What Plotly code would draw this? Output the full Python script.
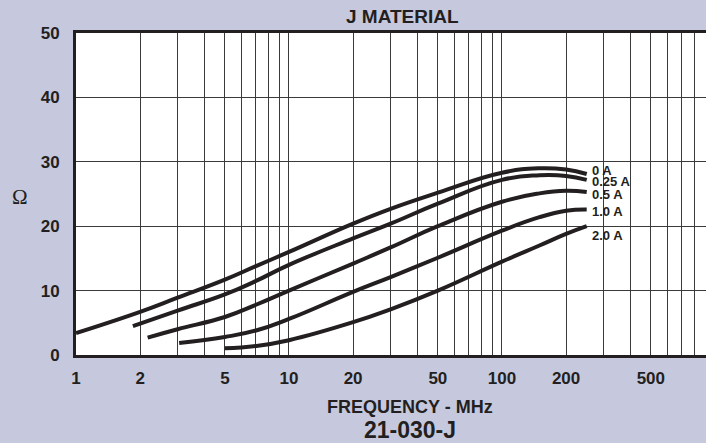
import math
import plotly.graph_objects as go

# ---- data ----
freq_0A = [1, 2, 3, 5, 7, 10, 20, 30, 50, 100, 150, 200, 250]
ohm_0A = [3.4, 6.7, 8.9, 11.7, 13.8, 16.0, 20.4, 22.7, 25.2, 28.3, 29.0, 28.8, 28.1]

freq_025A = [1.85, 3, 5, 7, 10, 20, 30, 50, 100, 150, 200, 250]
ohm_025A = [4.5, 6.9, 9.4, 11.5, 14.0, 18.1, 20.4, 23.5, 27.2, 27.9, 27.8, 27.2]

freq_05A = [2.17, 3, 5, 7, 10, 20, 30, 50, 100, 150, 200, 250]
ohm_05A = [2.7, 4.0, 5.9, 7.8, 10.0, 14.2, 16.7, 20.0, 23.8, 25.1, 25.5, 25.3]

freq_1A = [3.05, 5, 7, 10, 20, 30, 50, 100, 150, 200, 250]
ohm_1A = [1.85, 2.8, 3.8, 5.6, 9.8, 12.1, 15.1, 19.3, 21.4, 22.4, 22.6]

freq_2A = [5, 7, 10, 20, 30, 50, 100, 150, 200, 250]
ohm_2A = [1.05, 1.4, 2.3, 5.1, 7.1, 10.0, 14.5, 17.0, 18.8, 20.0]

series_names = ["0 A", "0.25 A", "0.5 A", "1.0 A", "2.0 A"]
label_y = [28.6, 26.9, 25.0, 22.3, 18.5]
label_freq = 262

x_grid = [1, 2, 3, 4, 5, 6, 7, 8, 9, 10, 20, 30, 40, 50, 60, 70, 80, 90,
          100, 200, 300, 400, 500, 600, 700, 800, 900]
x_labeled = [1, 2, 5, 10, 20, 50, 100, 200, 500]
y_ticks = [0, 10, 20, 30, 40, 50]

INK = "#231f20"
BG = "#c6c9dd"

W, H = 706, 443
ML, MR, MT, MB = 76, 0, 33, 88
PW, PH = W - ML - MR, H - MT - MB


def px_to_paper(px, py):
    return (px - ML) / PW, (H - py - MB) / PH


fig = go.Figure()
all_series = [(freq_0A, ohm_0A), (freq_025A, ohm_025A), (freq_05A, ohm_05A),
              (freq_1A, ohm_1A), (freq_2A, ohm_2A)]
for (fx, fy), name in zip(all_series, series_names):
    fig.add_trace(go.Scatter(x=fx, y=fy, mode="lines", name=name,
                             line=dict(color=INK, width=4, shape="spline", smoothing=1.3),
                             showlegend=False, hoverinfo="skip"))

for name, ly in zip(series_names, label_y):
    fig.add_annotation(x=math.log10(label_freq), y=ly, xref="x", yref="y",
                       text=name, showarrow=False, xanchor="left", yanchor="middle",
                       height=11, valign="middle", borderpad=0,
                       font=dict(family="Liberation Sans", size=13, color=INK,
                                 weight="bold"))

tick_text = [str(v) if v in x_labeled else "" for v in x_grid]
tick_font = dict(family="Liberation Sans", size=17, color=INK, weight="bold")

fig.update_xaxes(type="log", range=[0, 2.958], automargin=False,
                 tickvals=x_grid, ticktext=tick_text,
                 showgrid=True, gridcolor="#3a3a3a", gridwidth=1.3,
                 showline=True, linecolor=INK, linewidth=3, mirror=True,
                 ticks="", ticklabelstandoff=6, tickfont=tick_font,
                 zeroline=False)
fig.update_yaxes(range=[0, 50], tickvals=y_ticks, automargin=False,
                 showgrid=True, gridcolor="#3a3a3a", gridwidth=1.3,
                 showline=True, linecolor=INK, linewidth=3, mirror=False,
                 ticks="", ticklabelstandoff=10, tickfont=tick_font,
                 zeroline=False)

texts = [
    ("J MATERIAL", 402, 17, dict(family="Liberation Sans", size=19, color=INK, weight="bold")),
    ("FREQUENCY - MHz", 410, 407, dict(family="Liberation Sans", size=18, color=INK, weight="bold")),
    ("21-030-J", 410, 430, dict(family="Liberation Sans", size=23, color=INK, weight="bold")),
    ("Ω", 20, 197, dict(family="Liberation Serif", size=21, color=INK)),
]
for txt, px, py, font in texts:
    ax, ay = px_to_paper(px, py)
    fig.add_annotation(x=ax, y=ay, xref="paper", yref="paper", text=txt,
                       showarrow=False, xanchor="center", yanchor="middle", font=font)

fig.update_layout(width=W, height=H,
                  margin=dict(l=ML, r=MR, t=MT, b=MB),
                  paper_bgcolor=BG, plot_bgcolor="white")

fig.write_html("out.html", config={"displayModeBar": False},
               post_script="document.body.style.margin='0';"
                           "document.body.style.overflow='hidden';")
